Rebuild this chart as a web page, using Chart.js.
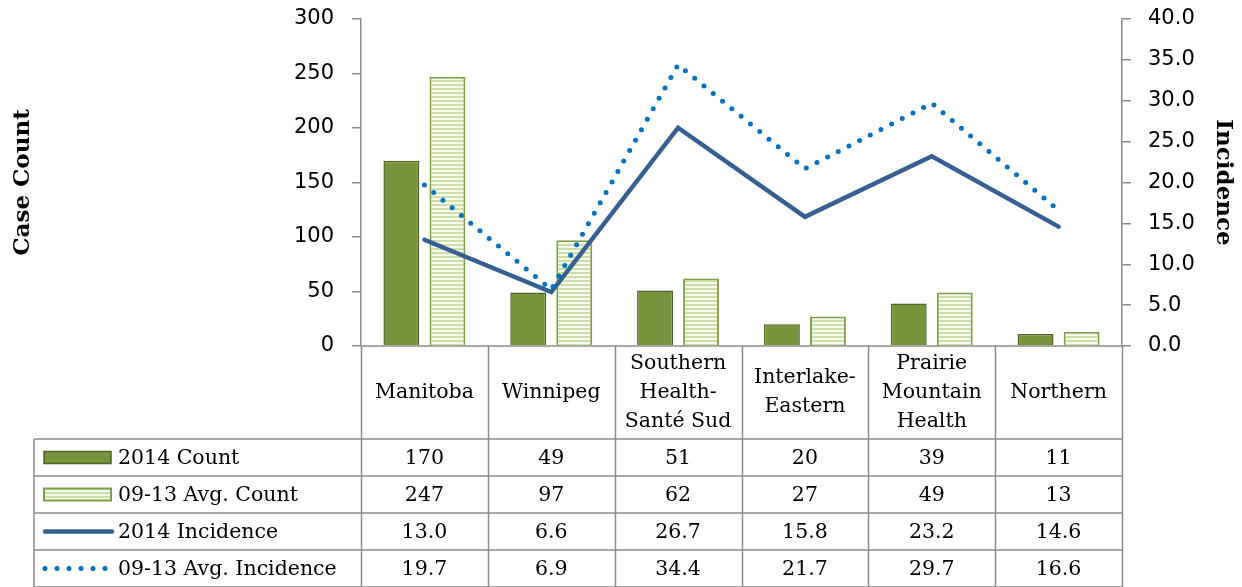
<!DOCTYPE html>
<html>
<head>
  <meta charset="utf-8">
  <script src="https://cdn.jsdelivr.net/npm/chart.js@4.4.1/dist/chart.umd.min.js"></script>
  <style>
    body { margin: 0; background: #fff; }
  </style>
</head>
<body>
  <canvas id="chart" width="1242" height="587"></canvas>

  <script>
    // data
    var regionLabels = [['Manitoba'], ['Winnipeg'], ['Southern', 'Health-', 'Santé Sud'], ['Interlake-', 'Eastern'], ['Prairie', 'Mountain', 'Health'], ['Northern']];
    var count2014 = [170, 49, 51, 20, 39, 11];
    var countAvg = [247, 97, 62, 27, 49, 13];
    var incidence2014 = [13.0, 6.6, 26.7, 15.8, 23.2, 14.6];
    var incidenceAvg = [19.7, 6.9, 34.4, 21.7, 29.7, 16.6];
    var seriesNames = ['2014 Count', '09-13 Avg. Count', '2014 Incidence', '09-13 Avg. Incidence'];
    var countTicks = [0, 300, 50];
    var incidenceTicks = [0, 40, 5];

    var tableFont = '20.5px "DejaVu Serif"';
    var lineGray = '#8c8c8c';

    var canvas = document.getElementById('chart');
    var ctx = canvas.getContext('2d');

    function makeStripes() {
      var c = document.createElement('canvas');
      c.width = 4; c.height = 4;
      var g = c.getContext('2d');
      g.fillStyle = '#f6f9ef';
      g.fillRect(0, 0, 4, 4);
      g.fillStyle = '#cddfa9';
      g.fillRect(0, 0, 4, 2);
      return ctx.createPattern(c, 'repeat');
    }

    // fixed box for the value axes so the plot sits where the reference has it
    function fixAxis(width) {
      return function(s) {
        s.width = width;
        s.paddingTop = 0;
        s.paddingBottom = 0;
      };
    }

    // draws the data table under the plot, using the x scale for columns
    var tablePlugin = {
      id: 'dataTable',
      afterDraw: function(chart) {
        var c = chart.ctx;
        var x = chart.scales.x;
        var area = chart.chartArea;
        var n = regionLabels.length;
        var colW = (area.right - area.left) / n;
        var top = area.bottom;
        var headBottom = top + 93;
        var rowH = 37;
        var tableLeft = 34;
        var bottom = chart.height + 2;
        var sets = chart.data.datasets;

        c.save();
        c.strokeStyle = lineGray;
        c.lineWidth = 1.5;
        c.beginPath();
        c.moveTo(area.left, top); c.lineTo(area.right, top);
        for (var i = 0; i <= n; i++) {
          var px = Math.round(area.left + i * colW) + 0.5;
          c.moveTo(px, top); c.lineTo(px, bottom);
        }
        c.moveTo(tableLeft, headBottom); c.lineTo(tableLeft, bottom);
        for (var r = 0; r <= sets.length; r++) {
          var py = headBottom + r * rowH;
          c.moveTo(tableLeft, py); c.lineTo(area.right, py);
        }
        c.stroke();

        c.fillStyle = '#000';
        c.font = tableFont;
        c.textAlign = 'center';
        c.textBaseline = 'middle';

        // header row
        var headMid = (top + headBottom) / 2;
        for (var i = 0; i < n; i++) {
          var cx = x.getPixelForValue(i);
          var lines = regionLabels[i];
          for (var k = 0; k < lines.length; k++) {
            c.fillText(lines[k], cx, headMid + (k - (lines.length - 1) / 2) * 29);
          }
        }

        // value rows with legend keys
        for (var r = 0; r < sets.length; r++) {
          var ds = sets[r];
          var cy = headBottom + (r + 0.5) * rowH;
          c.textAlign = 'center';
          c.fillStyle = '#000';
          for (var i = 0; i < n; i++) {
            var v = ds.data[i];
            c.fillText(ds.type === 'line' ? v.toFixed(1) : String(v), x.getPixelForValue(i), cy + 1);
          }

          c.save();
          if (ds.type === 'bar') {
            c.fillStyle = ds.backgroundColor;
            c.fillRect(44, cy - 6, 67, 12);
            c.strokeStyle = ds.borderColor;
            c.lineWidth = ds.borderWidth;
            c.strokeRect(44, cy - 6, 67, 12);
          } else {
            c.strokeStyle = ds.borderColor;
            c.lineWidth = ds.borderWidth;
            c.lineCap = 'round';
            if (ds.borderDash) c.setLineDash(ds.borderDash);
            c.beginPath();
            c.moveTo(45, cy);
            c.lineTo(ds.borderDash ? 106 : 112, cy);
            c.stroke();
          }
          c.restore();

          c.textAlign = 'left';
          c.fillStyle = '#000';
          c.fillText(ds.label, 118, cy + 1);
        }
        c.restore();
      }
    };

    var stripes = makeStripes();

    var chart = new Chart(canvas, {
      type: 'bar',
      data: {
        labels: regionLabels,
        datasets: [{
          type: 'bar',
          label: seriesNames[0],
          data: count2014,
          yAxisID: 'y',
          backgroundColor: '#77933C',
          borderColor: '#4F6228',
          borderWidth: 1.5,
          categoryPercentage: 0.726,
          barPercentage: 0.78,
          order: 2
        }, {
          type: 'bar',
          label: seriesNames[1],
          data: countAvg,
          yAxisID: 'y',
          backgroundColor: stripes,
          borderColor: '#7FA04A',
          borderWidth: 2,
          categoryPercentage: 0.726,
          barPercentage: 0.78,
          order: 2
        }, {
          type: 'line',
          label: seriesNames[2],
          data: incidence2014,
          yAxisID: 'y1',
          borderColor: '#376092',
          borderWidth: 4.5,
          borderCapStyle: 'round',
          borderJoinStyle: 'miter',
          pointRadius: 0,
          tension: 0,
          fill: false,
          order: 1
        }, {
          type: 'line',
          label: seriesNames[3],
          data: incidenceAvg,
          yAxisID: 'y1',
          borderColor: '#0070C0',
          borderWidth: 5,
          borderDash: [0, 12],
          borderCapStyle: 'round',
          pointRadius: 0,
          tension: 0,
          fill: false,
          order: 0
        }]
      },
      options: {
        responsive: false,
        animation: false,
        layout: { padding: { top: 19, bottom: 241, left: 0, right: 0 } },
        plugins: {
          legend: { display: false },
          tooltip: { enabled: false }
        },
        scales: {
          x: { display: false, offset: true },
          y: {
            position: 'left',
            min: countTicks[0],
            max: countTicks[1],
            ticks: { stepSize: countTicks[2], padding: 18, color: '#000', font: { family: 'DejaVu Sans', size: 21 } },
            grid: { drawOnChartArea: false, tickLength: 9, color: lineGray, lineWidth: 1.5 },
            border: { color: lineGray, width: 1.5 },
            title: { display: true, text: 'Case Count', color: '#000', padding: { top: 9, bottom: 0 },
                     font: { family: 'DejaVu Serif', size: 23, weight: 'bold' } },
            afterFit: fixAxis(361)
          },
          y1: {
            position: 'right',
            min: incidenceTicks[0],
            max: incidenceTicks[1],
            ticks: { stepSize: incidenceTicks[2], padding: 17, color: '#000', font: { family: 'DejaVu Sans', size: 21 },
                     callback: function(v) { return v.toFixed(1); } },
            grid: { drawOnChartArea: false, tickLength: 9, color: lineGray, lineWidth: 1.5 },
            border: { color: lineGray, width: 1.5 },
            title: { display: true, text: 'Incidence', color: '#000', padding: { top: 5, bottom: 0 },
                     font: { family: 'DejaVu Serif', size: 23, weight: 'bold' } },
            afterFit: fixAxis(120)
          }
        }
      },
      plugins: [tablePlugin]
    });
  </script>
</body>
</html>
